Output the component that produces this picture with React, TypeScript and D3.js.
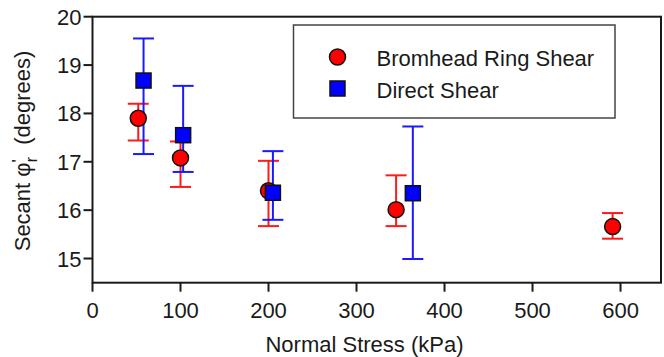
import React from "react";
import * as d3 from "d3";

const ringStress = [52, 100, 200, 345, 591];
const ringAngle = [17.9, 17.08, 16.4, 16.01, 15.66];
const ringHigh = [18.2, 17.42, 17.02, 16.72, 15.94];
const ringLow = [17.44, 16.48, 15.67, 15.67, 15.41];

const directStress = [58, 103, 205, 364];
const directAngle = [18.68, 17.55, 16.36, 16.35];
const directHigh = [19.55, 18.57, 17.22, 17.73];
const directLow = [17.16, 16.79, 15.8, 14.99];

const xTicks = [0, 100, 200, 300, 400, 500, 600];
const yTicks = [15, 16, 17, 18, 19, 20];
const seriesNames = ["Bromhead Ring Shear", "Direct Shear"];

const W = 664;
const H = 357;
const L = 92.5, R = 661, T = 16.7, B = 282.7;
const FONT = "'Liberation Sans', Arial, sans-serif";

export default function App() {
  const x = d3.scaleLinear().domain([0, 646]).range([L, R]);
  const y = d3.scaleLinear().domain([14.5, 20]).range([B, T]);
  const cap = 10.5;
  const axisColor = "#1a1a1a";

  const ring = ringStress.map((s, i) => ({ s, v: ringAngle[i], hi: ringHigh[i], lo: ringLow[i] }));
  const direct = directStress.map((s, i) => ({ s, v: directAngle[i], hi: directHigh[i], lo: directLow[i] }));

  const errBar = (d: any, color: string, key: string) => (
    <g key={key} stroke={color} strokeWidth={2}>
      <line x1={x(d.s)} x2={x(d.s)} y1={y(d.hi)} y2={y(d.lo)} />
      <line x1={x(d.s) - cap} x2={x(d.s) + cap} y1={y(d.hi)} y2={y(d.hi)} />
      <line x1={x(d.s) - cap} x2={x(d.s) + cap} y1={y(d.lo)} y2={y(d.lo)} />
    </g>
  );

  return (
    <svg width={W} height={H} style={{ position: "absolute", left: 0, top: 0, background: "#fff" }} fontFamily={FONT}>
      <rect x={0} y={0} width={W} height={H} fill="#fff" />
      {/* frame */}
      <rect x={L} y={T} width={R - L} height={B - T} fill="none" stroke={axisColor} strokeWidth={2} />
      {/* x ticks */}
      {xTicks.map((t) => (
        <g key={"xt" + t}>
          <line x1={x(t)} x2={x(t)} y1={B} y2={B + 9} stroke={axisColor} strokeWidth={2} />
          <text x={x(t)} y={318} fontSize={22} textAnchor="middle" fill="#1a1a1a">{t}</text>
        </g>
      ))}
      {/* y ticks */}
      {yTicks.map((t) => (
        <g key={"yt" + t}>
          <line x1={L - 9} x2={L} y1={y(t)} y2={y(t)} stroke={axisColor} strokeWidth={2} />
          <text x={81.5} y={y(t) + 8} fontSize={22} textAnchor="end" fill="#1a1a1a">{t}</text>
        </g>
      ))}
      {/* axis titles */}
      <text x={364.5} y={352} fontSize={22} textAnchor="middle" fill="#1a1a1a">Normal Stress (kPa)</text>
      <text transform="translate(30,151) rotate(-90)" fontSize={22} textAnchor="middle" fill="#1a1a1a">
        <tspan>Secant φ</tspan>
        <tspan dy={-6} fontSize={17}>'</tspan>
        <tspan dy={13} dx={-3} fontSize={16}>r</tspan>
        <tspan dy={-7} dx={12}>(degrees)</tspan>
      </text>
      {/* error bars */}
      {ring.map((d, i) => errBar(d, "#ff1a1a", "re" + i))}
      {direct.map((d, i) => errBar(d, "#1a1aff", "de" + i))}
      {/* markers */}
      {ring.map((d, i) => (
        <circle key={"rc" + i} cx={x(d.s)} cy={y(d.v)} r={8} fill="#ff0000" stroke="#111" strokeWidth={1.5} />
      ))}
      {direct.map((d, i) => (
        <rect key={"dr" + i} x={x(d.s) - 7.5} y={y(d.v) - 7.5} width={15} height={15} fill="#0000ff" stroke="#111" strokeWidth={1.5} />
      ))}
      {/* legend */}
      <rect x={293.5} y={25} width={321.5} height={93} fill="#fff" stroke="#444" strokeWidth={1.5} />
      <circle cx={337.5} cy={57} r={8} fill="#ff0000" stroke="#111" strokeWidth={1.5} />
      <rect x={330} y={81} width={15} height={15} fill="#0000ff" stroke="#111" strokeWidth={1.5} />
      <text x={376.5} y={65.5} fontSize={22} fill="#1a1a1a">{seriesNames[0]}</text>
      <text x={376.5} y={98} fontSize={22} fill="#1a1a1a">{seriesNames[1]}</text>
    </svg>
  );
}
